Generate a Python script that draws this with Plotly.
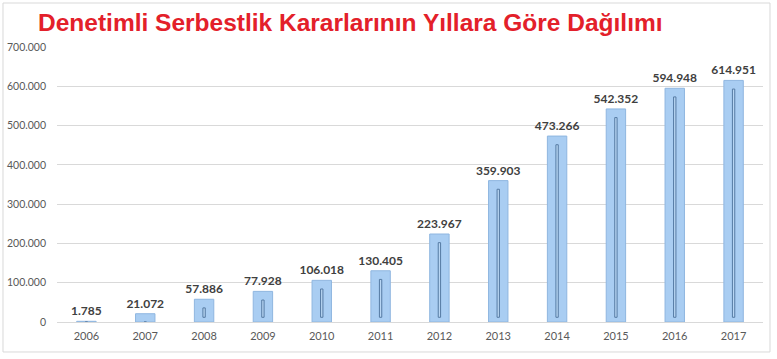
import plotly.graph_objects as go

years = ["2006", "2007", "2008", "2009", "2010", "2011", "2012", "2013", "2014", "2015", "2016", "2017"]
values = [1785, 21072, 57886, 77928, 106018, 130405, 223967, 359903, 473266, 542352, 594948, 614951]
labels = ["1.785", "21.072", "57.886", "77.928", "106.018", "130.405", "223.967",
          "359.903", "473.266", "542.352", "594.948", "614.951"]
title_text = "Denetimli Serbestlik Kararlarının Yıllara Göre Dağılımı"

inner_base = [12000 if v > 40000 else 0 for v in values]
inner_len = [(v - 22000 - 12000) if v > 40000 else 0 for v in values]

fig = go.Figure()
fig.add_trace(go.Bar(
    x=years, y=values, width=0.33,
    marker=dict(color="#a9cdf2", line=dict(color="#8fb6e0", width=1)),
    text=labels, textposition="outside", cliponaxis=False, constraintext="none",
    textfont=dict(family="Lato, Open Sans, sans-serif", size=12, color="#404040", weight="bold"),
    hoverinfo="x+y",
))
fig.add_trace(go.Bar(
    x=years, y=inner_len, base=inner_base, width=0.04,
    marker=dict(color="#b8d6f4", line=dict(color="#557aa3", width=1)),
    hoverinfo="skip",
))

fig.update_layout(
    width=777, height=359,
    margin=dict(l=57, r=14, t=47, b=37, autoexpand=False),
    paper_bgcolor="white", plot_bgcolor="white",
    barmode="overlay", showlegend=False,
    separators=",.",
    title=dict(text=title_text, x=38 / 777, xanchor="left", xref="container", y=1 - 22 / 359,
               yref="container", yanchor="middle", automargin=False,
               font=dict(family="Liberation Sans, Arial, sans-serif",
                         size=24.5, color="#e3202a", weight="bold")),
    xaxis=dict(type="category", tickfont=dict(family="Lato, Open Sans, sans-serif", size=11, color="#595959"),
               showline=True, linecolor="#d9d9d9", ticks="", showgrid=False, automargin=False,
               ticklabelstandoff=4),
    yaxis=dict(range=[0, 700000], dtick=100000, tickformat=",d", gridcolor="#d9d9d9",
               tickfont=dict(family="Lato, Open Sans, sans-serif", size=10.5, color="#595959"),
               zeroline=False, ticks="", ticklabelstandoff=10, automargin=False),
    shapes=[dict(type="rect", xref="paper", yref="paper",
                 x0=-0.0765, x1=1.0099, y0=-0.109, y1=1.16,
                 line=dict(color="#d9d9d9", width=1), layer="below")],
)

fig.write_html("out.html", config={"displayModeBar": False},
               post_script="document.body.style.margin='0';document.body.style.overflow='hidden';")
